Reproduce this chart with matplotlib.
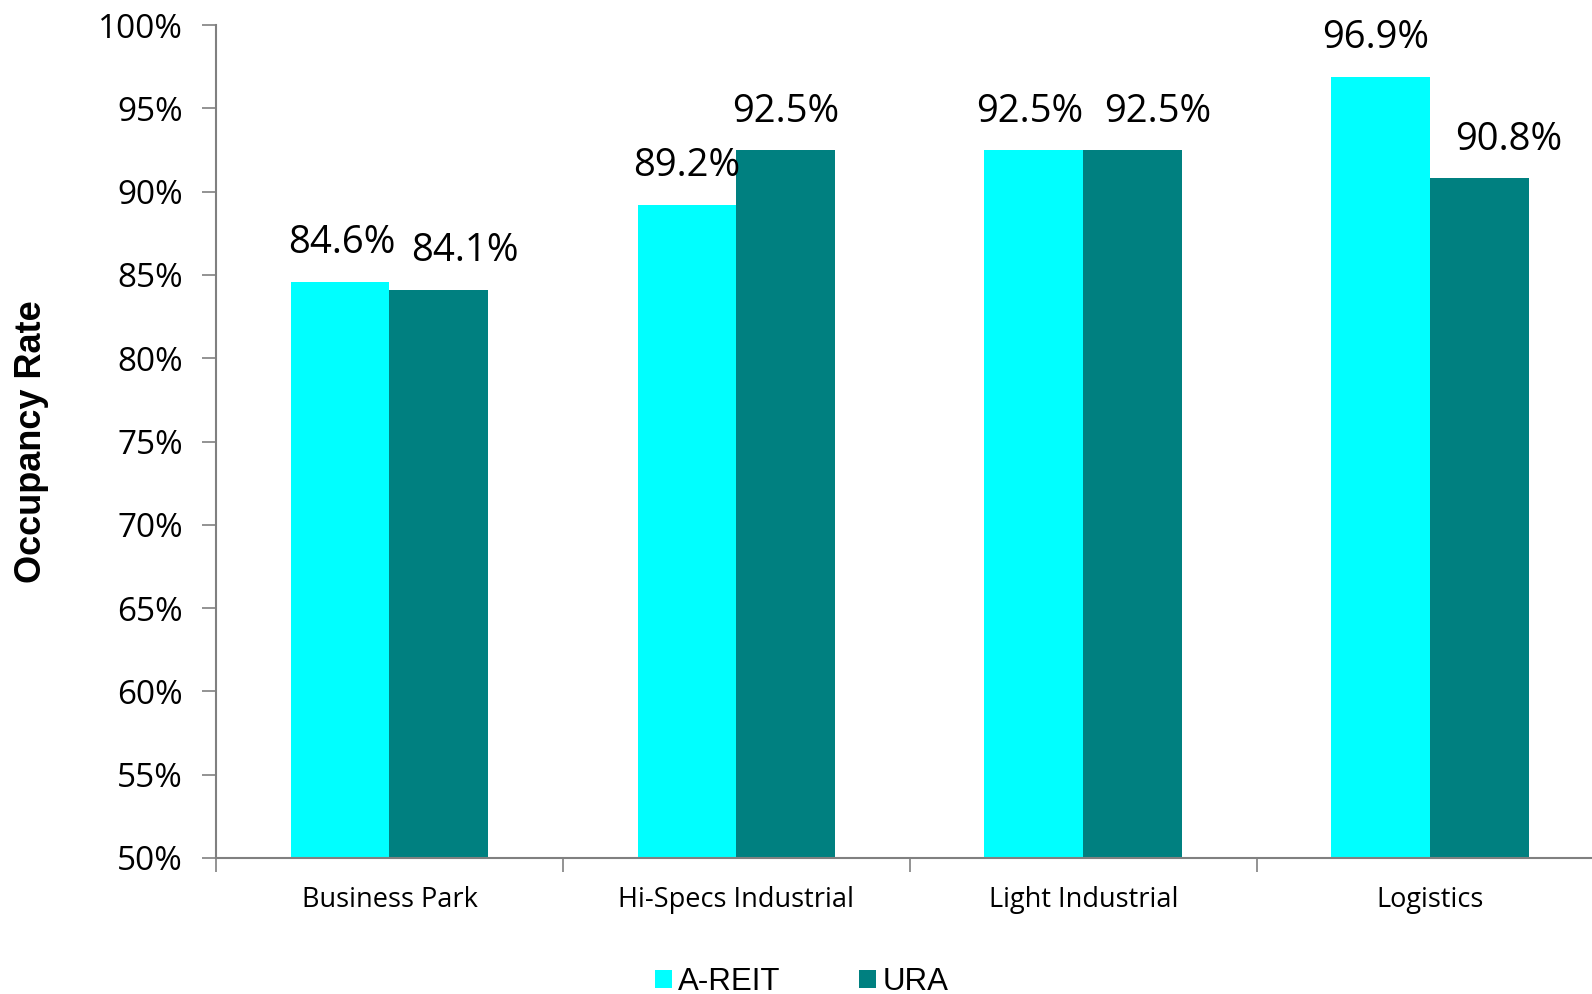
import matplotlib
matplotlib.use("Agg")
import matplotlib.pyplot as plt
import numpy as np

categories = ["Business Park", "Hi-Specs Industrial", "Light Industrial", "Logistics"]
areit = [84.6, 89.2, 92.5, 96.9]
ura = [84.1, 92.5, 92.5, 90.8]
series_names = ["A-REIT", "URA"]
yticks = [50, 55, 60, 65, 70, 75, 80, 85, 90, 95, 100]

# horizontal nudges (points) of the value labels, as placed in the original
areit_label_dx = [1, 0, -3, -4]
ura_label_dx = [19, 0, 18, 21]

fig = plt.figure(figsize=(15.92, 9.94), dpi=100)
ax = fig.add_axes([216/1592, 1-858/994, 1-216/1592, (858-25)/994])

x = np.arange(len(categories))
w = 0.285
c1, c2 = "#00FFFF", "#008080"
b1 = ax.bar(x - w/2, areit, w, color=c1, label=series_names[0], zorder=2)
b2 = ax.bar(x + w/2, ura, w, color=c2, label=series_names[1], zorder=2)

ax.set_yticks(yticks)
ax.set_yticklabels([f"{v}%" for v in yticks], fontfamily="Open Sans", fontsize=24)
ax.set_xticks(x)
ax.set_xticklabels(categories, fontfamily="Open Sans", fontsize=19.5)
ax.set_xticks(np.arange(len(categories) + 1) - 0.5, minor=True)
ax.set_ylim(50, 100)
ax.set_xlim(-0.5, 3.466)
ax.tick_params(axis="x", which="major", length=0, pad=20)
ax.tick_params(axis="x", which="minor", length=10, width=1.2, color="#808080", direction="out")
ax.tick_params(axis="y", length=10, width=1.2, color="#808080", direction="out", pad=14)

for s in ["top", "right"]:
    ax.spines[s].set_visible(False)
for s in ["left", "bottom"]:
    ax.spines[s].set_color("#808080")
    ax.spines[s].set_linewidth(1.5)

ax.set_ylabel("Occupancy Rate", fontfamily="Liberation Sans", fontweight="bold", fontsize=26, labelpad=35)

for bars, vals, dxs in ((b1, areit, areit_label_dx), (b2, ura, ura_label_dx)):
    for rect, v, dx in zip(bars, vals, dxs):
        ax.annotate(f"{v:.1f}%", (rect.get_x() + rect.get_width()/2, v),
                    xytext=(dx, 14), textcoords="offset points",
                    ha="center", va="bottom", fontfamily="Open Sans", fontsize=27.5)

leg = fig.legend(handles=[b1, b2], labels=series_names, loc="center",
                 bbox_to_anchor=(0.5035, 0.012), ncol=2, frameon=False,
                 prop={"family": "Liberation Sans", "size": 22.5},
                 handlelength=0.55, handleheight=0.55, handletextpad=0.2,
                 columnspacing=2.5)

fig.savefig("out.png", dpi=100)
